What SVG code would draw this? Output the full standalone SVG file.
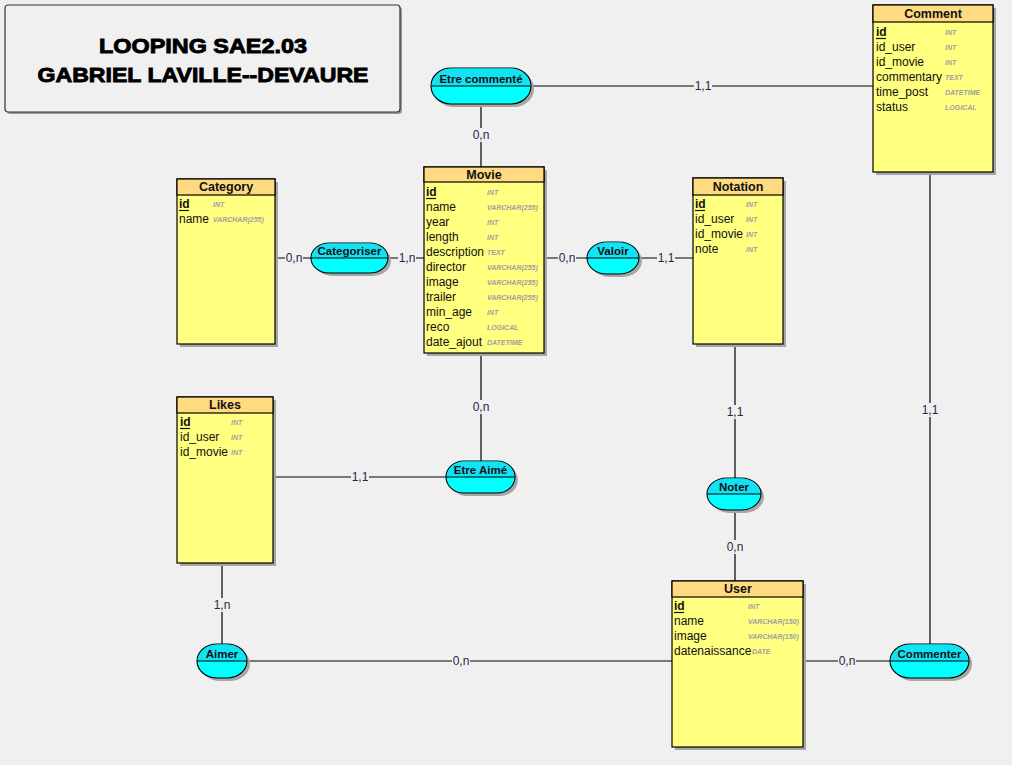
<svg xmlns="http://www.w3.org/2000/svg" width="1012" height="765" viewBox="0 0 1012 765">
<style>
.bg{fill:#f0f0f0}
.sh{fill:#a6a6a6}
.ent{fill:#ffff80;stroke:#000;stroke-width:1.2}
.hdr{fill:#ffda80;stroke:#000;stroke-width:1.2}
.et{font-family:"Liberation Sans",Arial,sans-serif;font-size:12.5px;font-weight:bold;fill:#111;text-anchor:middle}
.at{font-family:"Liberation Sans",Arial,sans-serif;font-size:12px;fill:#111}
.ty{font-family:"Liberation Sans",Arial,sans-serif;font-size:7px;font-style:italic;font-weight:bold;fill:#a0a0a0}
.pk{stroke:#111;stroke-width:1.2}
.rel{fill:#00ffff;stroke:#000;stroke-width:1.1}
.relt{fill:#12e2f2}
.mid{stroke:#000;stroke-width:1.1}
.rt{font-family:"Liberation Sans",Arial,sans-serif;font-size:11.5px;font-weight:bold;fill:#111;text-anchor:middle}
.ln{stroke:#000;stroke-width:1.2;fill:none}
.cb{fill:#f0f0f0}
.ct{font-family:"Liberation Sans",Arial,sans-serif;font-size:12px;fill:#26264a;text-anchor:middle}
.tt{font-family:"Liberation Sans",Arial,sans-serif;font-size:21px;font-weight:bold;fill:#000;stroke:#000;stroke-width:0.9;text-anchor:middle}
</style>
<rect class="bg" x="0" y="0" width="1012" height="765"/>

<g id="title">
<rect x="7" y="7" width="395" height="107" rx="3" fill="#9a9a9a"/>
<rect x="5" y="5" width="395" height="107" rx="3" fill="#f0f0f0" stroke="#333" stroke-width="1.2"/>
<text class="tt" x="203" y="53" textLength="208" lengthAdjust="spacingAndGlyphs">LOOPING SAE2.03</text>
<text class="tt" x="203" y="82" textLength="331" lengthAdjust="spacingAndGlyphs">GABRIEL LAVILLE--DEVAURE</text>
</g>

<g id="connectors">
<line class="ln" x1="531" y1="86" x2="873" y2="86"/>
<line class="ln" x1="481" y1="104" x2="481" y2="167"/>
<line class="ln" x1="275" y1="258" x2="424" y2="258"/>
<line class="ln" x1="544" y1="258" x2="693" y2="258"/>
<line class="ln" x1="481" y1="353" x2="481" y2="461"/>
<line class="ln" x1="273" y1="477" x2="446" y2="477"/>
<line class="ln" x1="735" y1="344" x2="735" y2="478"/>
<line class="ln" x1="735" y1="510" x2="735" y2="581"/>
<line class="ln" x1="222" y1="563" x2="222" y2="644"/>
<line class="ln" x1="247" y1="661" x2="672" y2="661"/>
<line class="ln" x1="803" y1="661" x2="890" y2="661"/>
<line class="ln" x1="930" y1="172" x2="930" y2="644"/>
<rect class="cb" x="694" y="79" width="18" height="14"/><text class="ct" x="703" y="90">1,1</text>
<rect class="cb" x="472" y="128" width="18" height="14"/><text class="ct" x="481" y="139">0,n</text>
<rect class="cb" x="285" y="251" width="18" height="14"/><text class="ct" x="294" y="262">0,n</text>
<rect class="cb" x="398" y="251" width="18" height="14"/><text class="ct" x="407" y="262">1,n</text>
<rect class="cb" x="558" y="251" width="18" height="14"/><text class="ct" x="567" y="262">0,n</text>
<rect class="cb" x="657" y="251" width="18" height="14"/><text class="ct" x="666" y="262">1,1</text>
<rect class="cb" x="472" y="400" width="18" height="14"/><text class="ct" x="481" y="411">0,n</text>
<rect class="cb" x="351" y="470" width="18" height="14"/><text class="ct" x="360" y="481">1,1</text>
<rect class="cb" x="726" y="405" width="18" height="14"/><text class="ct" x="735" y="416">1,1</text>
<rect class="cb" x="726" y="540" width="18" height="14"/><text class="ct" x="735" y="551">0,n</text>
<rect class="cb" x="213" y="598" width="18" height="14"/><text class="ct" x="222" y="609">1,n</text>
<rect class="cb" x="452" y="654" width="18" height="14"/><text class="ct" x="461" y="665">0,n</text>
<rect class="cb" x="838" y="654" width="18" height="14"/><text class="ct" x="847" y="665">0,n</text>
<rect class="cb" x="921" y="403" width="18" height="14"/><text class="ct" x="930" y="414">1,1</text>
</g>

<g id="comment">
<rect class="sh" x="876" y="8" width="120" height="167"/>
<rect class="ent" x="873" y="5" width="120" height="167"/>
<rect class="hdr" x="873" y="5" width="120" height="17"/>
<text class="et" x="933" y="18">Comment</text>
<text class="ty" x="945" y="35">INT</text>
<text class="ty" x="945" y="50">INT</text>
<text class="ty" x="945" y="65">INT</text>
<text class="ty" x="945" y="80">TEXT</text>
<text class="ty" x="945" y="95">DATETIME</text>
<text class="ty" x="945" y="110">LOGICAL</text>
<text class="at" x="876" y="36" font-weight="bold">id</text><line class="pk" x1="876" y1="38.5" x2="886" y2="38.5"/>
<text class="at" x="876" y="51">id_user</text>
<text class="at" x="876" y="66">id_movie</text>
<text class="at" x="876" y="81">commentary</text>
<text class="at" x="876" y="96">time_post</text>
<text class="at" x="876" y="111">status</text>
</g>

<g id="movie">
<rect class="sh" x="427" y="170" width="120" height="186"/>
<rect class="ent" x="424" y="167" width="120" height="186"/>
<rect class="hdr" x="424" y="167" width="120" height="15"/>
<text class="et" x="484" y="179">Movie</text>
<text class="ty" x="487" y="195">INT</text>
<text class="ty" x="487" y="210">VARCHAR(255)</text>
<text class="ty" x="487" y="225">INT</text>
<text class="ty" x="487" y="240">INT</text>
<text class="ty" x="487" y="255">TEXT</text>
<text class="ty" x="487" y="270">VARCHAR(255)</text>
<text class="ty" x="487" y="285">VARCHAR(255)</text>
<text class="ty" x="487" y="300">VARCHAR(255)</text>
<text class="ty" x="487" y="315">INT</text>
<text class="ty" x="487" y="330">LOGICAL</text>
<text class="ty" x="487" y="345">DATETIME</text>
<text class="at" x="426" y="196" font-weight="bold">id</text><line class="pk" x1="426" y1="198.5" x2="436" y2="198.5"/>
<text class="at" x="426" y="211">name</text>
<text class="at" x="426" y="226">year</text>
<text class="at" x="426" y="241">length</text>
<text class="at" x="426" y="256">description</text>
<text class="at" x="426" y="271">director</text>
<text class="at" x="426" y="286">image</text>
<text class="at" x="426" y="301">trailer</text>
<text class="at" x="426" y="316">min_age</text>
<text class="at" x="426" y="331">reco</text>
<text class="at" x="426" y="346">date_ajout</text>
</g>

<g id="category">
<rect class="sh" x="180" y="182" width="98" height="165"/>
<rect class="ent" x="177" y="179" width="98" height="165"/>
<rect class="hdr" x="177" y="179" width="98" height="16"/>
<text class="et" x="226" y="191">Category</text>
<text class="ty" x="213" y="207">INT</text>
<text class="ty" x="213" y="222">VARCHAR(255)</text>
<text class="at" x="179" y="208" font-weight="bold">id</text><line class="pk" x1="179" y1="210.5" x2="189" y2="210.5"/>
<text class="at" x="179" y="223">name</text>
</g>

<g id="notation">
<rect class="sh" x="696" y="181" width="90" height="166"/>
<rect class="ent" x="693" y="178" width="90" height="166"/>
<rect class="hdr" x="693" y="178" width="90" height="17"/>
<text class="et" x="738" y="191">Notation</text>
<text class="ty" x="746" y="207">INT</text>
<text class="ty" x="746" y="222">INT</text>
<text class="ty" x="746" y="237">INT</text>
<text class="ty" x="746" y="252">INT</text>
<text class="at" x="695" y="208" font-weight="bold">id</text><line class="pk" x1="695" y1="210.5" x2="705" y2="210.5"/>
<text class="at" x="695" y="223">id_user</text>
<text class="at" x="695" y="238">id_movie</text>
<text class="at" x="695" y="253">note</text>
</g>

<g id="likes">
<rect class="sh" x="180" y="400" width="96" height="166"/>
<rect class="ent" x="177" y="397" width="96" height="166"/>
<rect class="hdr" x="177" y="397" width="96" height="16"/>
<text class="et" x="225" y="409">Likes</text>
<text class="ty" x="231" y="425">INT</text>
<text class="ty" x="231" y="440">INT</text>
<text class="ty" x="231" y="455">INT</text>
<text class="at" x="180" y="426" font-weight="bold">id</text><line class="pk" x1="180" y1="428.5" x2="190" y2="428.5"/>
<text class="at" x="180" y="441">id_user</text>
<text class="at" x="180" y="456">id_movie</text>
</g>

<g id="user">
<rect class="sh" x="675" y="584" width="131" height="166"/>
<rect class="ent" x="672" y="581" width="131" height="166"/>
<rect class="hdr" x="672" y="581" width="131" height="16"/>
<text class="et" x="738" y="593">User</text>
<text class="ty" x="748" y="609">INT</text>
<text class="ty" x="748" y="624">VARCHAR(150)</text>
<text class="ty" x="748" y="639">VARCHAR(150)</text>
<text class="ty" x="752" y="654">DATE</text>
<text class="at" x="674" y="610" font-weight="bold">id</text><line class="pk" x1="674" y1="612.5" x2="684" y2="612.5"/>
<text class="at" x="674" y="625">name</text>
<text class="at" x="674" y="640">image</text>
<text class="at" x="674" y="655">datenaissance</text>
</g>

<g id="etre-commente">
<rect class="sh" x="434" y="71" width="100" height="36" rx="20" ry="18"/>
<rect class="rel" x="431" y="68" width="100" height="36" rx="20" ry="18"/>
<path class="relt" d="M431.6,86 A20,18 0 0 1 451,68.6 H511 A20,18 0 0 1 530.4,86 Z"/>
<line class="mid" x1="431" y1="86" x2="531" y2="86"/>
<text class="rt" x="481" y="82.5">Etre commenté</text>
</g>

<g id="categoriser">
<rect class="sh" x="314" y="246" width="77" height="30" rx="18" ry="15"/>
<rect class="rel" x="311" y="243" width="77" height="30" rx="18" ry="15"/>
<path class="relt" d="M311.6,258 A18,15 0 0 1 329,243.6 H370 A18,15 0 0 1 387.4,258 Z"/>
<line class="mid" x1="311" y1="258" x2="388" y2="258"/>
<text class="rt" x="349.5" y="254.5">Categoriser</text>
</g>

<g id="valoir">
<rect class="sh" x="590" y="245" width="52" height="32" rx="20" ry="16"/>
<rect class="rel" x="587" y="242" width="52" height="32" rx="20" ry="16"/>
<path class="relt" d="M587.6,258 A20,16 0 0 1 607,242.6 H619 A20,16 0 0 1 638.4,258 Z"/>
<line class="mid" x1="587" y1="258" x2="639" y2="258"/>
<text class="rt" x="613" y="254.5">Valoir</text>
</g>

<g id="etre-aime">
<rect class="sh" x="449" y="464" width="69" height="32" rx="18" ry="16"/>
<rect class="rel" x="446" y="461" width="69" height="32" rx="18" ry="16"/>
<path class="relt" d="M446.6,477 A18,16 0 0 1 464,461.6 H497 A18,16 0 0 1 514.4,477 Z"/>
<line class="mid" x1="446" y1="477" x2="515" y2="477"/>
<text class="rt" x="480.5" y="473.5">Etre Aimé</text>
</g>

<g id="noter">
<rect class="sh" x="710" y="481" width="54" height="32" rx="20" ry="16"/>
<rect class="rel" x="707" y="478" width="54" height="32" rx="20" ry="16"/>
<path class="relt" d="M707.6,494 A20,16 0 0 1 727,478.6 H741 A20,16 0 0 1 760.4,494 Z"/>
<line class="mid" x1="707" y1="494" x2="761" y2="494"/>
<text class="rt" x="734" y="490.5">Noter</text>
</g>

<g id="aimer">
<rect class="sh" x="200" y="647" width="50" height="34" rx="20" ry="17"/>
<rect class="rel" x="197" y="644" width="50" height="34" rx="20" ry="17"/>
<path class="relt" d="M197.6,661 A20,17 0 0 1 217,644.6 H227 A20,17 0 0 1 246.4,661 Z"/>
<line class="mid" x1="197" y1="661" x2="247" y2="661"/>
<text class="rt" x="222" y="657.5">Aimer</text>
</g>

<g id="commenter">
<rect class="sh" x="893" y="647" width="79" height="34" rx="20" ry="17"/>
<rect class="rel" x="890" y="644" width="79" height="34" rx="20" ry="17"/>
<path class="relt" d="M890.6,661 A20,17 0 0 1 910,644.6 H949 A20,17 0 0 1 968.4,661 Z"/>
<line class="mid" x1="890" y1="661" x2="969" y2="661"/>
<text class="rt" x="929.5" y="657.5">Commenter</text>
</g>
</svg>
